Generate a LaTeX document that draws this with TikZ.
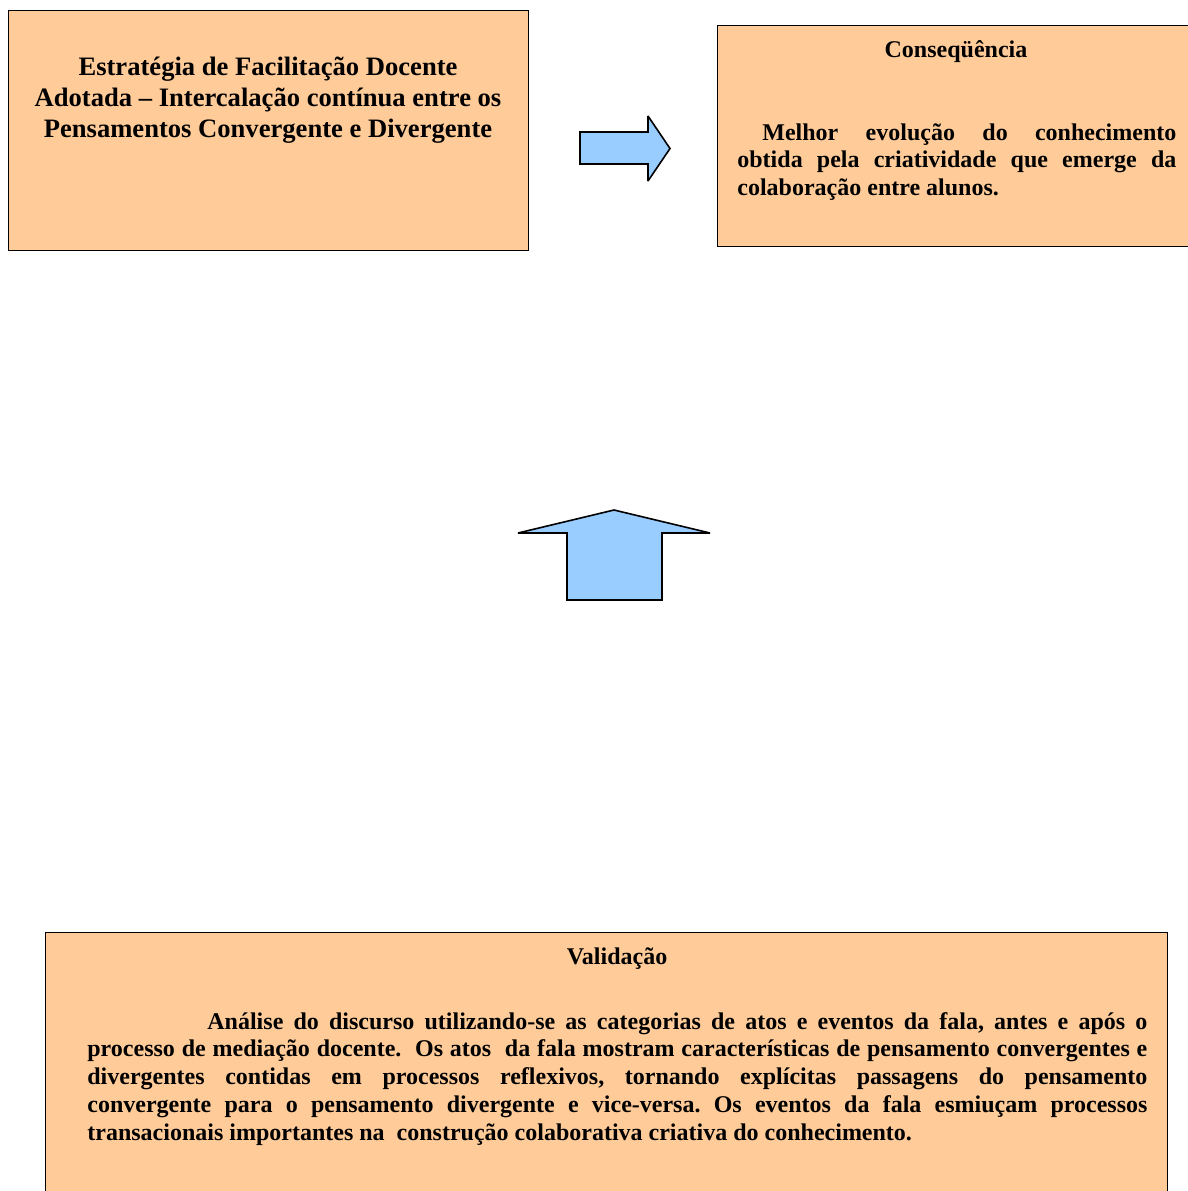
\documentclass[tikz,border=0pt]{standalone}
\usepackage{fontspec}
\setmainfont{Liberation Serif}
\frenchspacing
\definecolor{peach}{RGB}{255, 204, 153}
\definecolor{sky}{RGB}{153, 204, 255}
\tikzset{
    box/.style = {draw = black, fill = peach, line width = 0.5pt, inner sep = 0pt, anchor = north west},
    blockarrow/.style = {draw = black, fill = sky, line width = 0.8pt, line join = miter, miter limit = 3},
    bigtext/.style = {font = \bfseries\fontsize{13.3}{15.5}\selectfont, align = center, inner sep = 0pt},
    bodytext/.style = {font = \bfseries\fontsize{12}{13.9}\selectfont, inner sep = 0pt}
}

\begin{document}
\begin{tikzpicture}[x = 0.5pt, y = -0.5pt]
    \path[use as bounding box, clip] (0,0) rectangle (1188,1191);

    \node[box, minimum width = 260pt, minimum height = 120pt] (estrategia) at (8,10) {};
    % base of a multi-line node is its last line
    \node[bigtext, anchor = base] (estrategia text) at (268,137)
    {
        Estratégia de Facilitação Docente\\
        Adotada – Intercalação contínua entre os\\
        Pensamentos Convergente e Divergente
    };

    \node[box, minimum width = 239.5pt, minimum height = 110.5pt] (consequencia) at (717,25) {};
    \node[bodytext, anchor = base] (consequencia title) at (956,57) {Conseqüência};
    \node[bodytext, text width = 219.5pt, align = justify, anchor = base west] (consequencia text) at (737,140)
    {
        \noindent\hspace*{12.5pt}Melhor evolução do conhecimento\linebreak
        obtida pela criatividade que emerge da\linebreak
        colaboração entre alunos.
    };

    \node[box, minimum width = 561pt, minimum height = 140pt] (validacao) at (45,932) {};
    \node[bodytext, anchor = base] (validacao title) at (617,964) {Validação};
    \node[bodytext, text width = 530pt, align = justify, anchor = base west] (validacao text) at (87,1029)
    {
        \noindent\hspace*{60pt}Análise do discurso utilizando-se as categorias de atos e eventos da fala, antes e após o\linebreak
        processo de mediação docente.\ \ Os atos\ \ da fala mostram características de pensamento convergentes e\linebreak
        divergentes contidas em processos reflexivos, tornando explícitas passagens do pensamento\linebreak
        convergente para o pensamento divergente e vice-versa. Os eventos da fala esmiuçam processos\linebreak
        transacionais importantes na\ \ construção colaborativa criativa do conhecimento.
    };

    % block arrows
    \draw[blockarrow] (580,132) -- (648,132) -- (648,116) -- (670,148.5) -- (648,181) -- (648,164) -- (580,164) -- cycle;
    \draw[blockarrow] (567,600) -- (567,533) -- (518,533) -- (614,510) -- (710,533) -- (662,533) -- (662,600) -- cycle;
\end{tikzpicture}
\end{document}
